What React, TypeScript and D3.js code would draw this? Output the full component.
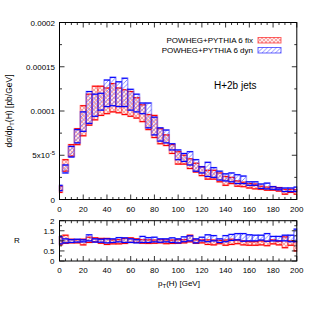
import * as d3 from "d3";

// bin centres (GeV), bins are 5 GeV wide, first/last clipped at the frame
const binCentres: number[] = d3.range(0, 201, 5);

// dsigma/dpT band edges, in units of 1e-5 pb/GeV
const fixLo: number[] = [0.8, 3.2, 4.9, 6.2, 7.2, 8.4, 9.0, 9.5, 9.7, 9.9, 9.8, 9.6, 9.4, 9.2, 8.8, 7.9, 7.0, 6.3, 6.1, 5.2, 4.0, 4.0, 3.5, 3.1, 2.7, 2.3, 2.3, 2.0, 1.6, 1.8, 1.5, 1.45, 1.3, 1.2, 1.15, 1.05, 1.05, 0.95, 0.6, 0.8, 0.6];
const fixHi: number[] = [1.5, 4.5, 6.2, 8.0, 10.6, 11.9, 12.8, 12.8, 12.6, 13.1, 12.6, 12.4, 12.2, 11.5, 10.7, 9.6, 9.5, 8.0, 7.3, 6.2, 5.4, 5.0, 4.6, 4.1, 3.7, 3.3, 3.3, 3.0, 2.6, 2.5, 2.1, 1.95, 1.8, 1.75, 1.5, 1.4, 1.45, 1.35, 1.15, 1.15, 1.1];
const dynLo: number[] = [1.0, 3.0, 4.8, 6.4, 7.7, 8.6, 9.4, 10.1, 10.5, 10.6, 10.5, 10.5, 10.1, 9.9, 9.7, 8.1, 7.3, 6.6, 6.4, 5.6, 4.5, 4.3, 3.9, 3.2, 3.0, 2.6, 2.5, 2.2, 2.1, 2.0, 1.8, 1.8, 1.6, 1.6, 1.25, 1.2, 1.15, 1.1, 0.9, 0.9, 0.9];
const dynHi: number[] = [1.6, 3.9, 6.0, 7.9, 9.9, 12.2, 11.9, 12.0, 13.5, 13.8, 13.3, 13.7, 12.45, 11.9, 10.9, 10.9, 9.3, 8.1, 7.85, 6.3, 5.6, 5.2, 5.4, 4.5, 3.7, 4.2, 3.6, 3.2, 2.9, 3.0, 2.8, 2.65, 2.0, 2.0, 1.75, 1.85, 1.45, 1.3, 1.3, 1.3, 1.4];

// ratio panel band edges
const rFixLo: number[] = [0.8, 0.88, 0.9, 0.9, 0.8, 0.92, 0.95, 0.88, 0.82, 0.85, 0.85, 0.87, 0.92, 0.92, 0.88, 0.87, 0.88, 0.9, 0.86, 0.87, 0.88, 0.9, 0.95, 0.88, 0.9, 0.82, 0.8, 0.86, 0.78, 0.82, 0.86, 0.8, 0.78, 0.78, 0.8, 0.76, 0.85, 0.8, 0.66, 0.78, 0.5];
const rFixHi: number[] = [1.2, 1.28, 1.08, 1.06, 1.08, 1.18, 1.15, 1.12, 1.12, 1.05, 1.06, 1.12, 1.15, 1.1, 1.06, 1.05, 1.04, 1.06, 1.05, 1.04, 1.06, 1.06, 1.28, 1.05, 1.05, 1.05, 1.04, 1.02, 1.04, 1.08, 1.04, 1.0, 0.96, 0.96, 1.0, 0.98, 1.05, 0.98, 1.2, 1.0, 0.96];
const rDynLo: number[] = [0.85, 0.9, 0.92, 0.94, 0.95, 1.0, 0.94, 0.93, 0.9, 0.92, 0.95, 0.92, 0.92, 0.9, 0.92, 0.92, 0.95, 0.93, 0.95, 0.92, 0.9, 0.96, 1.0, 0.9, 1.0, 0.96, 1.0, 0.92, 0.96, 1.02, 1.05, 0.98, 1.0, 1.0, 1.04, 0.98, 1.0, 1.0, 1.0, 0.96, 0.96];
const rDynHi: number[] = [1.2, 1.1, 1.06, 1.08, 1.05, 1.3, 1.1, 1.08, 1.1, 1.1, 1.16, 1.15, 1.1, 1.06, 1.22, 1.16, 1.18, 1.1, 1.1, 1.15, 1.1, 1.2, 1.25, 1.1, 1.18, 1.3, 1.26, 1.1, 1.26, 1.32, 1.36, 1.36, 1.3, 1.28, 1.28, 1.36, 1.22, 1.22, 1.28, 1.28, 1.58];

const xTicks: number[] = [0, 20, 40, 60, 80, 100, 120, 140, 160, 180, 200];
const yTicksMain: number[] = [0, 5e-5, 1e-4, 1.5e-4, 2e-4];
const yTickLabelsMain: string[] = ["0", "5x10", "0.0001", "0.00015", "0.0002"];
const yTicksRatio: number[] = [0, 0.5, 1, 1.5, 2];
const legendLabels: string[] = ["POWHEG+PYTHIA 6 fix", "POWHEG+PYTHIA 6 dyn"];

const RED = "#ff0000";
const BLUE = "#0000ff";
const FONT = "Liberation Sans, Arial, sans-serif";

export default function App() {
  const left = 59.5;
  const right = 296.8;
  const x = d3.scaleLinear().domain([0, 200]).range([left, right]);
  const yMain = d3.scaleLinear().domain([0, 2e-4]).range([199.5, 22.5]);
  const yRatio = d3.scaleLinear().domain([0, 2]).range([261, 220.7]);

  const binX = (c: number) => {
    const a = x(Math.max(0, c - 2.5));
    const b = x(Math.min(200, c + 2.5));
    return [a, b];
  };

  const bands = (lo: number[], hi: number[], y: any, scale: number, color: string, pat: string) =>
    binCentres.map((c, i) => {
      const [a, b] = binX(c);
      const y0 = y(hi[i] * scale);
      const y1 = y(lo[i] * scale);
      return (
        <g key={i}>
          <rect x={a} y={y0} width={b - a} height={y1 - y0} fill={`url(#${pat})`} stroke={color} strokeOpacity={0.35} strokeWidth={1.6} />
          <line x1={a} x2={b} y1={y0} y2={y0} stroke={color} strokeWidth={1.1} />
          <line x1={a} x2={b} y1={y1} y2={y1} stroke={color} strokeWidth={1.1} />
        </g>
      );
    });

  const minorX = d3.range(0, 201, 5);

  const frame = (top: number, bottom: number, y: any, yMajor: number[], yMinor: number[]) => (
    <g>
      <rect x={left} y={top} width={right - left} height={bottom - top} fill="none" stroke="#000" strokeWidth={1} />
      {minorX.map((t) => {
        const len = t % 20 === 0 ? 5 : 2.5;
        return (
          <g key={"x" + t}>
            <line x1={x(t)} x2={x(t)} y1={bottom} y2={bottom - len} stroke="#000" strokeWidth={0.8} />
            <line x1={x(t)} x2={x(t)} y1={top} y2={top + len} stroke="#000" strokeWidth={0.8} />
          </g>
        );
      })}
      {yMajor.map((t) => (
        <g key={"y" + t}>
          <line x1={left} x2={left + 5} y1={y(t)} y2={y(t)} stroke="#000" strokeWidth={0.8} />
          <line x1={right} x2={right - 5} y1={y(t)} y2={y(t)} stroke="#000" strokeWidth={0.8} />
        </g>
      ))}
      {yMinor.map((t) => (
        <g key={"m" + t}>
          <line x1={left} x2={left + 2.5} y1={y(t)} y2={y(t)} stroke="#000" strokeWidth={0.8} />
          <line x1={right} x2={right - 2.5} y1={y(t)} y2={y(t)} stroke="#000" strokeWidth={0.8} />
        </g>
      ))}
    </g>
  );

  return (
    <svg width={314} height={314} style={{ position: "absolute", left: 0, top: 0, background: "#fff" }} fontFamily={FONT}>
      <defs>
        <pattern id="cross" width={4} height={4} patternUnits="userSpaceOnUse">
          <rect width={4} height={4} fill="#ffeaea" />
          <path d="M0,0 L4,4 M4,0 L0,4" stroke="#f08a8a" strokeWidth={0.7} />
        </pattern>
        <pattern id="diag" width={4.5} height={4.5} patternUnits="userSpaceOnUse">
          <path d="M-1,1 L1,-1 M0,4.5 L4.5,0 M3.5,5.5 L5.5,3.5" stroke="#8080ff" strokeWidth={0.9} />
        </pattern>
      </defs>

      {/* main panel */}
      {bands(fixLo, fixHi, yMain, 1e-5, RED, "cross")}
      {bands(dynLo, dynHi, yMain, 1e-5, BLUE, "diag")}
      {frame(22.5, 199.5, yMain, yTicksMain, [2.5e-5, 7.5e-5, 1.25e-4, 1.75e-4])}

      {yTicksMain.map((t, i) => (
        <text key={t} x={55} y={yMain(t) + 3} fontSize={8} textAnchor="end">
          {yTickLabelsMain[i]}
          {i === 1 ? <tspan fontSize={6} dy={-3.5}>-5</tspan> : null}
        </text>
      ))}
      {xTicks.map((t) => (
        <text key={t} x={x(t)} y={212} fontSize={8} textAnchor="middle">{t}</text>
      ))}

      <text transform="translate(12,111) rotate(-90)" fontSize={8.5} textAnchor="middle">
        dσ/dp<tspan fontSize={6} dy={2}>T</tspan><tspan dy={-2}>(H) [pb/GeV]</tspan>
      </text>

      {legendLabels.map((l, i) => (
        <g key={l}>
          <text x={253} y={43 + i * 10} fontSize={8} textAnchor="end">{l}</text>
          <rect x={258} y={37.5 + i * 10} width={23} height={5.5} fill={i === 0 ? "url(#cross)" : "url(#diag)"} stroke={i === 0 ? RED : BLUE} strokeOpacity={0.6} strokeWidth={1} />
        </g>
      ))}
      <text x={214} y={88.5} fontSize={10}>H+2b jets</text>

      {/* ratio panel */}
      {bands(rFixLo, rFixHi, yRatio, 1, RED, "cross")}
      {bands(rDynLo, rDynHi, yRatio, 1, BLUE, "diag")}
      {frame(220.7, 261, yRatio, yTicksRatio, [0.25, 0.75, 1.25, 1.75])}
      {yTicksRatio.map((t) => (
        <text key={t} x={54.5} y={yRatio(t) + 3} fontSize={8} textAnchor="end">{t}</text>
      ))}
      {xTicks.map((t) => (
        <text key={t} x={x(t)} y={273} fontSize={8} textAnchor="middle">{t}</text>
      ))}
      <text x={17} y={243} fontSize={8} textAnchor="middle">R</text>
      <text x={158} y={286} fontSize={8}>
        p<tspan fontSize={6} dy={2}>T</tspan><tspan dy={-2}>(H) [GeV]</tspan>
      </text>
    </svg>
  );
}
